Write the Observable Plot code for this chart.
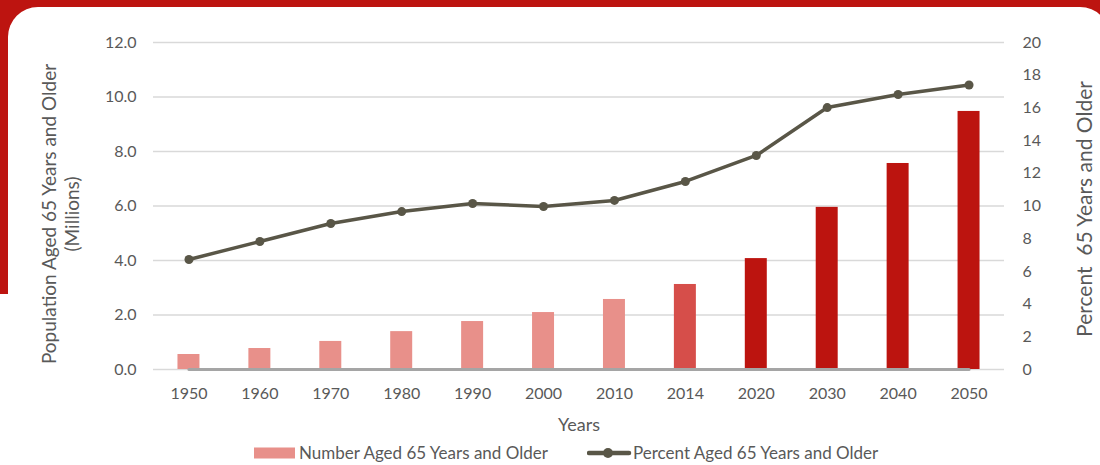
<!DOCTYPE html>
<html>
<head>
<meta charset="utf-8">
<script src="https://cdn.jsdelivr.net/npm/d3@7"></script>
<script src="https://cdn.jsdelivr.net/npm/@observablehq/plot@0.6"></script>
<style>
  html, body { margin: 0; padding: 0; background: #fff; }
  #frame { position: relative; width: 1100px; height: 465px; overflow: hidden; background: #BD1410; font-family: Lato, "Open Sans", sans-serif; }
  #panel { position: absolute; left: 8px; top: 7px; width: 1102px; height: 520px; background: #fff; border-radius: 30px; }
  #patch { position: absolute; left: 0; top: 294px; width: 40px; height: 171px; background: #fff; }
  #chart { position: absolute; left: 0; top: 0; }
  #legend { position: absolute; left: 0; top: 440px; width: 1100px; height: 25px; color: #595959; font-size: 17px; }
  .lg { position: absolute; top: 2px; display: flex; align-items: center; white-space: nowrap; }
</style>
</head>
<body>
<div id="frame">
  <div id="panel"></div>
  <div id="patch"></div>
  <div id="chart"></div>
  <div id="legend"></div>
</div>
<script>
const years = ["1950","1960","1970","1980","1990","2000","2010","2014","2020","2030","2040","2050"];
const population = [0.55, 0.77, 1.03, 1.39, 1.76, 2.09, 2.57, 3.12, 4.07, 5.95, 7.56, 9.47];
const percent = [6.73, 7.83, 8.93, 9.66, 10.15, 9.97, 10.34, 11.5, 13.09, 16.02, 16.82, 17.4];
const period = ["past","past","past","past","past","past","past","current","projected","projected","projected","projected"];
const periodColors = ["#E8908A", "#D64E4A", "#BC140F"];
const leftTicks = [0, 2, 4, 6, 8, 10, 12];
const rightTicks = [0, 2, 4, 6, 8, 10, 12, 14, 16, 18, 20];
const barLabel = "Number Aged 65 Years and Older";
const lineLabel = "Percent Aged 65 Years and Older";
const leftTitle = "Population Aged 65 Years and Older\n(Millions)";
const rightTitle = "Percent  65 Years and Older";
const xTitle = "Years";

const k = 12 / 20;
const data = years.map((y, i) => ({year: y, pop: population[i], pct: percent[i], period: period[i]}));
const font = "Lato, 'Open Sans', sans-serif";
const grey = "#595959";

const chart = Plot.plot({
  width: 1100,
  height: 435,
  marginTop: 42,
  marginBottom: 66,
  marginLeft: 153,
  marginRight: 96,
  style: {fontFamily: font, fontSize: "16px", color: grey, background: "transparent", overflow: "visible"},
  x: {type: "band", domain: years, paddingInner: 0.69, paddingOuter: 0.345, round: false, label: null},
  y: {domain: [0, 12], label: null},
  color: {domain: ["past", "current", "projected"], range: periodColors},
  marks: [
    Plot.gridY(leftTicks, {stroke: "#D9D9D9", strokeOpacity: 1, strokeWidth: 1.5}),
    Plot.axisY(leftTicks, {anchor: "left", tickSize: 0, tickPadding: 17, tickFormat: d3.format(".1f"), label: null, fill: grey}),
    Plot.axisY(rightTicks.map(d => d * k), {anchor: "right", tickSize: 0, tickPadding: 18, tickFormat: d => String(Math.round(d / k)), label: null, fill: grey, textAnchor: "start"}),
    Plot.axisX({tickSize: 0, tickPadding: 18, label: null, fill: grey}),
    Plot.barY(data, {x: "year", y: "pop", fill: "period"}),
    Plot.lineY(years, {x: d => d, y: () => 0, stroke: "#A5A5A5", strokeWidth: 3}),
    Plot.line(data, {x: "year", y: d => d.pct * k, stroke: "#595647", strokeWidth: 3.5, strokeLinejoin: "round"}),
    Plot.dot(data, {x: "year", y: d => d.pct * k, r: 4.5, fill: "#595647", stroke: "none"}),
    Plot.text([leftTitle], {frameAnchor: "left", textAnchor: "middle", rotate: -90, dx: -93, dy: 8, fontSize: 19, fill: grey, lineHeight: 1.2}),
    Plot.text([rightTitle], {frameAnchor: "right", textAnchor: "middle", rotate: -90, dx: 81, dy: 3, fontSize: 21, fill: grey}),
    Plot.text([xTitle], {frameAnchor: "bottom", dy: 61, fontSize: 18, fill: grey})
  ]
});
document.getElementById("chart").appendChild(chart);

const legend = document.getElementById("legend");
legend.innerHTML = `
  <div class="lg" style="left:254px"><svg width="45" height="12"><rect x="0" y="0.5" width="41" height="11" fill="${periodColors[0]}"></rect></svg><span>${barLabel}</span></div>
  <div class="lg" style="left:587px"><svg width="46" height="12"><line x1="2" y1="6" x2="42" y2="6" stroke="#595647" stroke-width="4.5" stroke-linecap="round"></line><circle cx="21" cy="6" r="5" fill="#595647"></circle></svg><span>${lineLabel}</span></div>
`;
</script>
</body>
</html>
